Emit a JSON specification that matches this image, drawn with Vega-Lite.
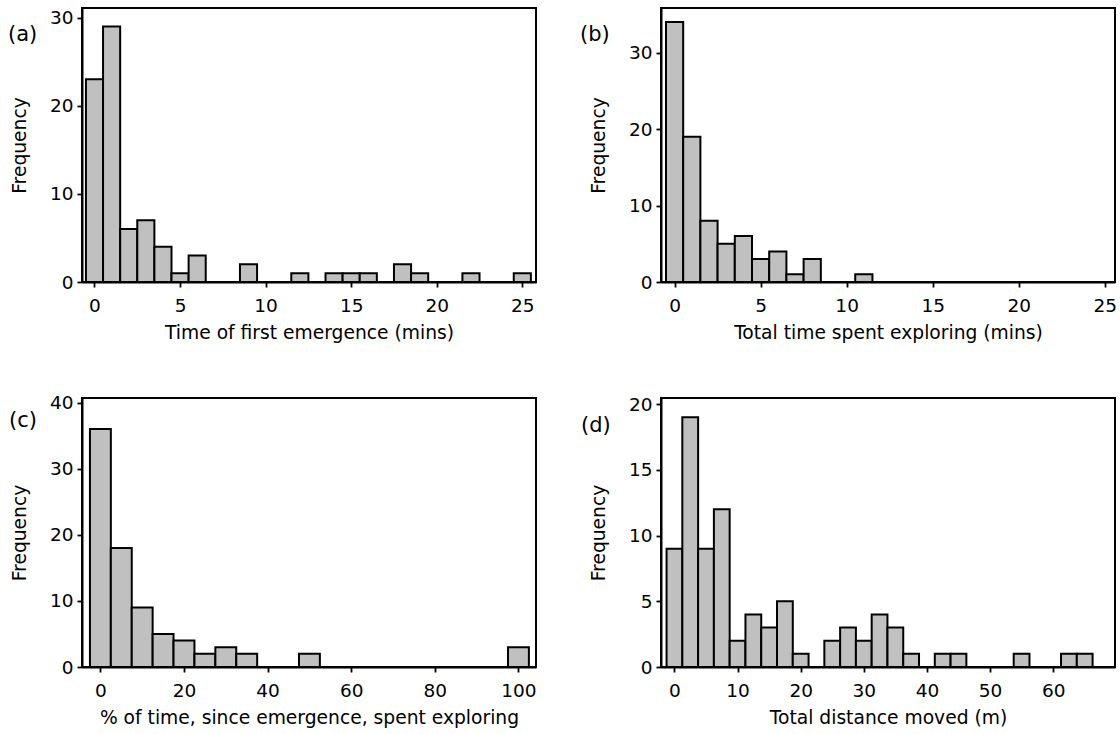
{
  "$schema": "https://vega.github.io/schema/vega-lite/v6.json",
  "background": "white",
  "padding": {"left": 7, "top": 7, "right": 0, "bottom": 0},
  "columns": 2,
  "spacing": {"column": 41, "row": 48},
  "concat": [
    {
      "width": 454, "height": 274,
      "title": {"text": "(a)", "dx": -74, "dy": 41},
      "data": {"values": [
        {"lo": -0.5, "hi": 0.5, "n": 23}, {"lo": 0.5, "hi": 1.5, "n": 29}, {"lo": 1.5, "hi": 2.5, "n": 6},
        {"lo": 2.5, "hi": 3.5, "n": 7}, {"lo": 3.5, "hi": 4.5, "n": 4}, {"lo": 4.5, "hi": 5.5, "n": 1},
        {"lo": 5.5, "hi": 6.5, "n": 3}, {"lo": 6.5, "hi": 7.5, "n": 0}, {"lo": 7.5, "hi": 8.5, "n": 0},
        {"lo": 8.5, "hi": 9.5, "n": 2}, {"lo": 9.5, "hi": 10.5, "n": 0}, {"lo": 10.5, "hi": 11.5, "n": 0},
        {"lo": 11.5, "hi": 12.5, "n": 1}, {"lo": 12.5, "hi": 13.5, "n": 0}, {"lo": 13.5, "hi": 14.5, "n": 1},
        {"lo": 14.5, "hi": 15.5, "n": 1}, {"lo": 15.5, "hi": 16.5, "n": 1}, {"lo": 16.5, "hi": 17.5, "n": 0},
        {"lo": 17.5, "hi": 18.5, "n": 2}, {"lo": 18.5, "hi": 19.5, "n": 1}, {"lo": 19.5, "hi": 20.5, "n": 0},
        {"lo": 20.5, "hi": 21.5, "n": 0}, {"lo": 21.5, "hi": 22.5, "n": 1}, {"lo": 22.5, "hi": 23.5, "n": 0},
        {"lo": 23.5, "hi": 24.5, "n": 0}, {"lo": 24.5, "hi": 25.5, "n": 1}
      ]},
      "mark": {"type": "bar"},
      "encoding": {
        "x": {"field": "lo", "type": "quantitative", "scale": {"domain": [-0.73, 25.8], "nice": false, "zero": false},
              "axis": {"title": "Time of first emergence (mins)", "values": [0, 5, 10, 15, 20, 25]}},
        "x2": {"field": "hi"},
        "y": {"field": "n", "type": "quantitative", "scale": {"domain": [0, 31.09], "nice": false},
              "axis": {"title": "Frequency", "values": [0, 10, 20, 30]}},
        "y2": {"datum": 0}
      }
    },
    {
      "width": 454, "height": 274,
      "title": {"text": "(b)", "dx": -81, "dy": 41},
      "data": {"values": [
        {"lo": -0.5, "hi": 0.5, "n": 34}, {"lo": 0.5, "hi": 1.5, "n": 19}, {"lo": 1.5, "hi": 2.5, "n": 8},
        {"lo": 2.5, "hi": 3.5, "n": 5}, {"lo": 3.5, "hi": 4.5, "n": 6}, {"lo": 4.5, "hi": 5.5, "n": 3},
        {"lo": 5.5, "hi": 6.5, "n": 4}, {"lo": 6.5, "hi": 7.5, "n": 1}, {"lo": 7.5, "hi": 8.5, "n": 3},
        {"lo": 8.5, "hi": 9.5, "n": 0}, {"lo": 9.5, "hi": 10.5, "n": 0}, {"lo": 10.5, "hi": 11.5, "n": 1},
        {"lo": 11.5, "hi": 12.5, "n": 0}, {"lo": 12.5, "hi": 13.5, "n": 0}, {"lo": 13.5, "hi": 14.5, "n": 0},
        {"lo": 14.5, "hi": 15.5, "n": 0}, {"lo": 15.5, "hi": 16.5, "n": 0}, {"lo": 16.5, "hi": 17.5, "n": 0},
        {"lo": 17.5, "hi": 18.5, "n": 0}, {"lo": 18.5, "hi": 19.5, "n": 0}, {"lo": 19.5, "hi": 20.5, "n": 0},
        {"lo": 20.5, "hi": 21.5, "n": 0}, {"lo": 21.5, "hi": 22.5, "n": 0}, {"lo": 22.5, "hi": 23.5, "n": 0},
        {"lo": 23.5, "hi": 24.5, "n": 0}, {"lo": 24.5, "hi": 25.5, "n": 0}
      ]},
      "mark": {"type": "bar"},
      "encoding": {
        "x": {"field": "lo", "type": "quantitative", "scale": {"domain": [-0.79, 25.6], "nice": false, "zero": false},
              "axis": {"title": "Total time spent exploring (mins)", "values": [0, 5, 10, 15, 20, 25]}},
        "x2": {"field": "hi"},
        "y": {"field": "n", "type": "quantitative", "scale": {"domain": [0, 35.83], "nice": false},
              "axis": {"title": "Frequency", "values": [0, 10, 20, 30]}},
        "y2": {"datum": 0}
      }
    },
    {
      "width": 454, "height": 269,
      "title": {"text": "(c)", "dx": -73, "dy": 41},
      "data": {"values": [
        {"lo": -2.5, "hi": 2.5, "n": 36}, {"lo": 2.5, "hi": 7.5, "n": 18}, {"lo": 7.5, "hi": 12.5, "n": 9},
        {"lo": 12.5, "hi": 17.5, "n": 5}, {"lo": 17.5, "hi": 22.5, "n": 4}, {"lo": 22.5, "hi": 27.5, "n": 2},
        {"lo": 27.5, "hi": 32.5, "n": 3}, {"lo": 32.5, "hi": 37.5, "n": 2}, {"lo": 37.5, "hi": 42.5, "n": 0},
        {"lo": 42.5, "hi": 47.5, "n": 0}, {"lo": 47.5, "hi": 52.5, "n": 2}, {"lo": 52.5, "hi": 57.5, "n": 0},
        {"lo": 57.5, "hi": 62.5, "n": 0}, {"lo": 62.5, "hi": 67.5, "n": 0}, {"lo": 67.5, "hi": 72.5, "n": 0},
        {"lo": 72.5, "hi": 77.5, "n": 0}, {"lo": 77.5, "hi": 82.5, "n": 0}, {"lo": 82.5, "hi": 87.5, "n": 0},
        {"lo": 87.5, "hi": 92.5, "n": 0}, {"lo": 92.5, "hi": 97.5, "n": 0}, {"lo": 97.5, "hi": 102.5, "n": 3}
      ]},
      "mark": {"type": "bar"},
      "encoding": {
        "x": {"field": "lo", "type": "quantitative", "scale": {"domain": [-4.4, 104.2], "nice": false, "zero": false},
              "axis": {"title": "% of time, since emergence, spent exploring", "values": [0, 20, 40, 60, 80, 100]}},
        "x2": {"field": "hi"},
        "y": {"field": "n", "type": "quantitative", "scale": {"domain": [0, 40.7], "nice": false},
              "axis": {"title": "Frequency", "values": [0, 10, 20, 30, 40]}},
        "y2": {"datum": 0}
      }
    },
    {
      "width": 454, "height": 269,
      "title": {"text": "(d)", "dx": -80, "dy": 45},
      "data": {"values": [
        {"lo": -1.25, "hi": 1.25, "n": 9}, {"lo": 1.25, "hi": 3.75, "n": 19}, {"lo": 3.75, "hi": 6.25, "n": 9},
        {"lo": 6.25, "hi": 8.75, "n": 12}, {"lo": 8.75, "hi": 11.25, "n": 2}, {"lo": 11.25, "hi": 13.75, "n": 4},
        {"lo": 13.75, "hi": 16.25, "n": 3}, {"lo": 16.25, "hi": 18.75, "n": 5}, {"lo": 18.75, "hi": 21.25, "n": 1},
        {"lo": 21.25, "hi": 23.75, "n": 0}, {"lo": 23.75, "hi": 26.25, "n": 2}, {"lo": 26.25, "hi": 28.75, "n": 3},
        {"lo": 28.75, "hi": 31.25, "n": 2}, {"lo": 31.25, "hi": 33.75, "n": 4}, {"lo": 33.75, "hi": 36.25, "n": 3},
        {"lo": 36.25, "hi": 38.75, "n": 1}, {"lo": 38.75, "hi": 41.25, "n": 0}, {"lo": 41.25, "hi": 43.75, "n": 1},
        {"lo": 43.75, "hi": 46.25, "n": 1}, {"lo": 46.25, "hi": 48.75, "n": 0}, {"lo": 48.75, "hi": 51.25, "n": 0},
        {"lo": 51.25, "hi": 53.75, "n": 0}, {"lo": 53.75, "hi": 56.25, "n": 1}, {"lo": 56.25, "hi": 58.75, "n": 0},
        {"lo": 58.75, "hi": 61.25, "n": 0}, {"lo": 61.25, "hi": 63.75, "n": 1}, {"lo": 63.75, "hi": 66.25, "n": 1},
        {"lo": 66.25, "hi": 68.75, "n": 0}
      ]},
      "mark": {"type": "bar"},
      "encoding": {
        "x": {"field": "lo", "type": "quantitative", "scale": {"domain": [-2.13, 69.8], "nice": false, "zero": false},
              "axis": {"title": "Total distance moved (m)", "values": [0, 10, 20, 30, 40, 50, 60]}},
        "x2": {"field": "hi"},
        "y": {"field": "n", "type": "quantitative", "scale": {"domain": [0, 20.46], "nice": false},
              "axis": {"title": "Frequency", "values": [0, 5, 10, 15, 20]}},
        "y2": {"datum": 0}
      }
    }
  ],
  "config": {
    "font": "DejaVu Sans",
    "view": {"stroke": "black", "strokeWidth": 2},
    "axis": {
      "grid": false, "domainColor": "black", "domainWidth": 2,
      "tickColor": "black", "tickWidth": 1.8, "tickSize": 5,
      "labelFont": "DejaVu Sans", "labelFontSize": 18.5, "labelColor": "black", "labelFlush": false, "labelOverlap": false,
      "titleFont": "DejaVu Sans", "titleFontSize": 18.7, "titleFontWeight": "normal", "titleColor": "black"
    },
    "axisX": {"labelPadding": 9, "titlePadding": 9},
    "axisY": {"labelPadding": 4, "titlePadding": 20},
    "title": {"font": "DejaVu Sans", "fontSize": 21, "fontWeight": "normal", "anchor": "start", "frame": "group", "color": "black", "offset": 0, "baseline": "alphabetic"},
    "bar": {"fill": "#c0c0c0", "stroke": "black", "strokeWidth": 2}
  }
}
